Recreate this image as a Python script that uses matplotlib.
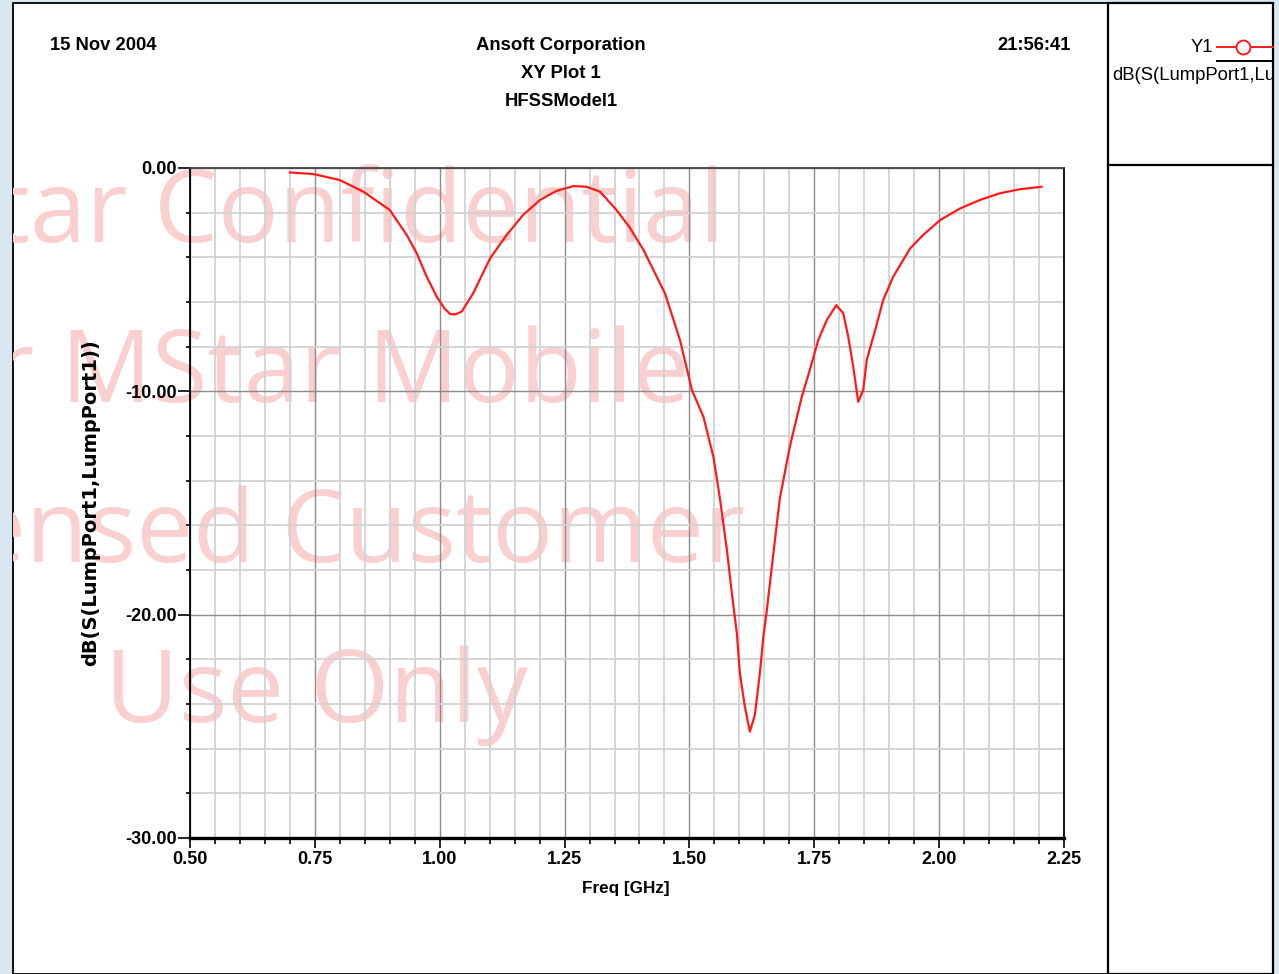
import matplotlib
matplotlib.use("Agg")
import matplotlib.pyplot as plt
from matplotlib.patches import Rectangle
from matplotlib.lines import Line2D
from matplotlib.ticker import MultipleLocator, FixedLocator, FixedFormatter

# S11 sweep of the model, frequency in GHz and return loss in dB
freq_ghz = [0.700, 0.747, 0.800, 0.847, 0.900, 0.934, 0.954, 0.974, 0.994, 1.010,
            1.021, 1.032, 1.044, 1.067, 1.101, 1.134, 1.167, 1.201, 1.234, 1.268,
            1.294, 1.321, 1.354, 1.380, 1.408, 1.451, 1.481, 1.505, 1.528, 1.548, 1.561,
            1.575, 1.585, 1.595, 1.601, 1.611, 1.621, 1.631, 1.641, 1.648, 1.655,
            1.665, 1.681, 1.701, 1.725, 1.741, 1.758, 1.775, 1.794, 1.808, 1.818,
            1.828, 1.838, 1.848, 1.855, 1.872, 1.888, 1.908, 1.928, 1.942, 1.968,
            2.002, 2.042, 2.082, 2.122, 2.162, 2.205]
s11_db = [-0.20, -0.27, -0.54, -1.06, -1.88, -3.00, -3.82, -4.87, -5.76, -6.30,
          -6.54, -6.55, -6.43, -5.61, -4.04, -3.00, -2.10, -1.43, -1.02, -0.81,
          -0.84, -1.06, -1.88, -2.65, -3.67, -5.61, -7.70, -9.94, -11.14, -12.93, -14.79,
          -17.10, -19.05, -20.84, -22.63, -24.12, -25.24, -24.50, -22.63, -20.99, -19.80,
          -17.85, -14.79, -12.48, -10.24, -9.05, -7.70, -6.81, -6.14, -6.51, -7.55,
          -8.90, -10.47, -9.94, -8.60, -7.25, -5.91, -4.87, -4.12, -3.60, -3.00,
          -2.33, -1.81, -1.43, -1.13, -0.95, -0.84]

x_ticks = [0.50, 0.75, 1.00, 1.25, 1.50, 1.75, 2.00, 2.25]
x_tick_labels = ["0.50", "0.75", "1.00", "1.25", "1.50", "1.75", "2.00", "2.25"]
y_ticks = [-30, -20, -10, 0]
y_tick_labels = ["-30.00", "-20.00", "-10.00", "0.00"]

header_left = "15 Nov 2004"
header_center = ["Ansoft Corporation", "XY Plot 1", "HFSSModel1"]
header_right = "21:56:41"
x_label = "Freq [GHz]"
y_label = "dB(S(LumpPort1,LumpPort1))"
legend_name = "Y1"
legend_expr = "dB(S(LumpPort1,LumpPort1))"
watermark = ["MStar Confidential", "for MStar Mobile", "Licensed Customer", "Use Only"]

W, H = 1279, 974
NARROW = ["Liberation Sans Narrow", "Liberation Sans", "DejaVu Sans"]
SANS = ["Liberation Sans", "DejaVu Sans"]


def fx(x):
    return x / W


def fy(y):
    return 1 - y / H


fig = plt.figure(figsize=(W / 100, H / 100), dpi=100)
fig.patch.set_facecolor("#d9e7f3")

# white report panel and legend panel
panel = Rectangle((fx(13), 0), fx(1108) - fx(13), fy(3), transform=fig.transFigure,
                  facecolor="white", edgecolor="black", linewidth=1.3, zorder=-3)
fig.patches.append(panel)
legend_panel = Rectangle((fx(1108), 0), fx(1273) - fx(1108), fy(3), transform=fig.transFigure,
                         facecolor="white", edgecolor="black", linewidth=1.6, zorder=-3)
fig.patches.append(legend_panel)
fig.lines.append(Line2D([fx(1108), fx(1273)], [fy(165), fy(165)], transform=fig.transFigure,
                        color="black", linewidth=1.6, zorder=-2))

# watermark behind the grid
wm_pos = [(725, 242, "right"), (690, 402, "right"), (745, 562, "right"), (105, 722, "left")]
for text, (x, y, ha) in zip(watermark, wm_pos):
    t = fig.text(fx(x), fy(y), text, ha=ha, va="baseline", fontsize=73,
                 family=["Open Sans", "DejaVu Sans"], color="#facfcf", zorder=-1)
    t.set_clip_path(panel)

ax = fig.add_axes([fx(190), fy(838), fx(1064) - fx(190), fy(168) - fy(838)], zorder=0)
ax.set_facecolor("none")
ax.plot(freq_ghz, s11_db, color="#ff1a1a", linewidth=1.6, zorder=3)
ax.set_xlim(0.5, 2.25)
ax.set_ylim(-30, 0)

ax.xaxis.set_major_locator(FixedLocator(x_ticks))
ax.xaxis.set_major_formatter(FixedFormatter(x_tick_labels))
ax.xaxis.set_minor_locator(MultipleLocator(0.05))
ax.yaxis.set_major_locator(FixedLocator(y_ticks))
ax.yaxis.set_major_formatter(FixedFormatter(y_tick_labels))
ax.yaxis.set_minor_locator(MultipleLocator(2))

ax.grid(which="minor", color="#d2d2d2", linewidth=1.3, zorder=0)
ax.grid(which="major", color="#8c8c8c", linewidth=1.0, zorder=0)
ax.set_axisbelow(True)

ax.tick_params(axis="x", which="major", direction="out", length=7, width=1.2,
               pad=2, labelsize=13)
ax.tick_params(axis="x", which="minor", direction="out", length=4.5, width=1.2)
ax.tick_params(axis="y", which="major", direction="out", length=8.5, width=1.2,
               pad=1, labelsize=13)
ax.tick_params(axis="y", which="minor", direction="out", length=3, width=1.2)
for lab in ax.get_xticklabels() + ax.get_yticklabels():
    lab.set_family(NARROW)
    lab.set_fontweight("bold")

ax.spines["bottom"].set_linewidth(2.4)
ax.spines["left"].set_linewidth(1.3)
ax.spines["right"].set_linewidth(1.3)
ax.spines["top"].set_linewidth(1.3)
ax.spines["top"].set_color("#444444")

# headers
fig.text(fx(50), fy(46), header_left, ha="left", va="center", fontsize=13.2,
         fontweight="bold", family=NARROW)
for i, line in enumerate(header_center):
    fig.text(fx(561), fy(46 + 28 * i), line, ha="center", va="center", fontsize=13.3,
             fontweight="bold", family=NARROW)
fig.text(fx(1071), fy(46), header_right, ha="right", va="center", fontsize=13.2,
         fontweight="bold", family=NARROW)

fig.text(fx(626), fy(888), x_label, ha="center", va="center", fontsize=12.3,
         fontweight="bold", family=NARROW)
fig.text(fx(91), fy(503), y_label, ha="center", va="center", rotation=90, fontsize=14,
         fontweight="bold", family=["DejaVu Sans"])

# legend entry
fig.text(fx(1213), fy(48), legend_name, ha="right", va="center", fontsize=13.3, family=SANS)
fig.lines.append(Line2D([fx(1217), fx(1243), fx(1273)], [fy(47)] * 3, transform=fig.transFigure,
                        color="#ff1a1a", linewidth=1.4, marker="o", markevery=[1],
                        markersize=10, markerfacecolor="white", markeredgecolor="#ff1a1a",
                        markeredgewidth=1.4))
fig.lines.append(Line2D([fx(1217), fx(1273)], [fy(61), fy(61)], transform=fig.transFigure,
                        color="black", linewidth=1.4))
lt = fig.text(fx(1112), fy(76), legend_expr, ha="left", va="center", fontsize=13.3, family=SANS)
lt.set_clip_path(legend_panel)

fig.savefig("out.png", dpi=100)
